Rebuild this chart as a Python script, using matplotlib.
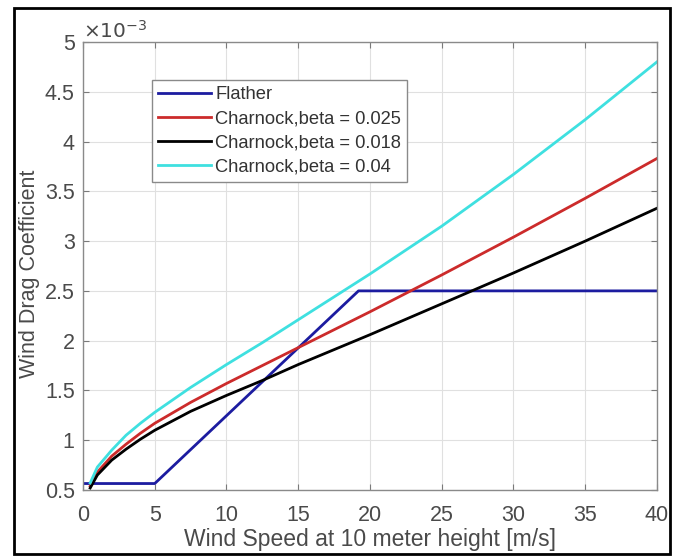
import matplotlib
matplotlib.use('Agg')
import matplotlib.pyplot as plt
import matplotlib.patches as patches

plt.rcParams['font.family'] = ['Liberation Sans', 'DejaVu Sans']

# Wind speed at 10 m [m/s] and drag coefficients (in units of 1e-3)
flather_u = [0, 5, 19.2, 40]
flather_cd = [0.565, 0.565, 2.5, 2.5]

u = [0.5, 1, 2, 3, 4, 5, 7.5, 10, 12.5, 15, 17.5, 20, 25, 30, 35, 40]
cd_beta_025 = [0.54, 0.68, 0.84, 0.96, 1.07, 1.17, 1.38, 1.57, 1.75, 1.93, 2.11, 2.29, 2.66, 3.04, 3.43, 3.83]
cd_beta_018 = [0.52, 0.65, 0.80, 0.91, 1.01, 1.10, 1.29, 1.45, 1.60, 1.76, 1.91, 2.06, 2.37, 2.68, 3.00, 3.33]
cd_beta_04 = [0.57, 0.73, 0.90, 1.05, 1.17, 1.28, 1.53, 1.76, 1.98, 2.21, 2.44, 2.67, 3.15, 3.67, 4.22, 4.80]

labels = ['Flather', 'Charnock,beta = 0.025', 'Charnock,beta = 0.018', 'Charnock,beta = 0.04']
colors = ['#1c1ca0', '#cc2b2b', '#000000', '#3fe0e0']

txt = '#4a4a4a'

fig = plt.figure(figsize=(6.82, 5.56), dpi=100)
ax = fig.add_axes([0.1217, 0.1187, 0.8416, 0.8058])

ax.plot(flather_u, flather_cd, color=colors[0], lw=2, label=labels[0])
ax.plot(u, cd_beta_025, color=colors[1], lw=2, label=labels[1])
ax.plot(u, cd_beta_018, color=colors[2], lw=2, label=labels[2])
ax.plot(u, cd_beta_04, color=colors[3], lw=2, label=labels[3])

ax.set_xlim([0, 40])
ax.set_ylim([0.5, 5])
ax.set_xticks([0, 5, 10, 15, 20, 25, 30, 35, 40])
ax.set_yticks([0.5, 1, 1.5, 2, 2.5, 3, 3.5, 4, 4.5, 5])
ax.set_yticklabels(['0.5', '1', '1.5', '2', '2.5', '3', '3.5', '4', '4.5', '5'])
ax.grid(True, color='#e0e0e0', lw=0.8)
ax.set_axisbelow(True)
ax.tick_params(direction='in', top=True, right=True, labelsize=15.5, colors='#7a7a7a',
               labelcolor=txt, length=4)
ax.tick_params(axis='x', pad=11)
ax.tick_params(axis='y', pad=6)
for s in ax.spines.values():
    s.set_color('#8a8a8a')
    s.set_linewidth(1)

ax.set_xlabel('Wind Speed at 10 meter height [m/s]', fontsize=16.5, color=txt, labelpad=1)
ax.set_ylabel('Wind Drag Coefficient', fontsize=15.5, color=txt)
ax.yaxis.set_label_coords(-0.075, 0.482)
ax.text(0.0, 1.0, r'$\times 10^{-3}$', transform=ax.transAxes, fontsize=14.5, color=txt,
        ha='left', va='bottom', family='DejaVu Sans')

leg = ax.legend(loc='upper left', bbox_to_anchor=(0.12, 0.915), borderaxespad=0, fontsize=13.2,
                handlelength=2.9, handletextpad=0.2, labelspacing=0.38, borderpad=0.35, fancybox=False,
                edgecolor='#8a8a8a', framealpha=1)
for t in leg.get_texts():
    t.set_color('#333333')

# outer frame around the figure
fig.patches.append(patches.Rectangle((14 / 682, 2 / 556), 656 / 682, 546 / 556, transform=fig.transFigure,
                                     fill=False, ec='black', lw=2))

fig.savefig('out.png', dpi=100)
